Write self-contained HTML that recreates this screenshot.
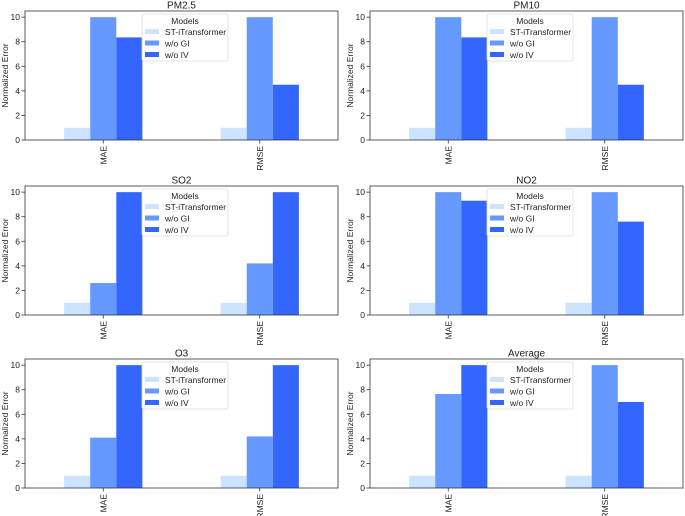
<!DOCTYPE html>
<html><head><meta charset="utf-8"><style>
body{margin:0;background:#fff}
svg{display:block;font-family:"Liberation Sans","DejaVu Sans",sans-serif}
</style></head><body>
<svg id="c" width="685" height="516" viewBox="0 0 685 516"></svg>
<script>
const panelTitles=["PM2.5","PM10","SO2","NO2","O3","Average"];
const categories=["MAE","RMSE"];
const seriesNames=["ST-iTransformer","w/o GI","w/o IV"];
const stValues=[[1,1],[1,1],[1,1],[1,1],[1,1],[1,1]];
const giValues=[[10,10],[10,10],[2.6,4.2],[10,10],[4.1,4.2],[7.65,10]];
const ivValues=[[8.35,4.5],[8.35,4.5],[10,10],[9.3,7.6],[10,10],[10,7.0]];
const yTicks=[0,2,4,6,8,10];
const colors=["#cce4ff","#6699ff","#3366ff"];
const NS="http://www.w3.org/2000/svg";
const svg=document.getElementById('c');
function mk(tag,attrs,parent,text){const e=document.createElementNS(NS,tag);for(const k in attrs)e.setAttribute(k,attrs[k]);if(text!==undefined)e.textContent=text;parent.appendChild(e);return e;}
const lefts=[25,370],tops=[11,186,359],W=313,H=129;
const allVals=[stValues,giValues,ivValues];
panelTitles.forEach((t,i)=>{
  const x0=lefts[i%2],y0=tops[Math.floor(i/2)];
  const g=mk('g',{},svg);
  
  
  const xs=v=>x0+(v+0.5)/2*W;
  const ys=v=>y0+H-v/10.5*H;
  const bw=W/2*0.5/3;
  categories.forEach((c,ci)=>{
    allVals.forEach((arr,si)=>{
      const v=arr[i][ci];
      const r=mk('rect',{x:xs(ci)-1.5*bw+si*bw,y:ys(v),width:bw,height:ys(0)-ys(v),fill:colors[si]},g);
      
      
    });
    mk('line',{x1:xs(ci),x2:xs(ci),y1:y0+H,y2:y0+H+3.5,stroke:'#333','stroke-width':0.8},g);
    const tl=mk('text',{x:0,y:0,'font-size':8.5,fill:'#222','text-anchor':'end',transform:`translate(${xs(ci)+3},${y0+H+6}) rotate(-90)`},g,c);
    
    
  });
  yTicks.forEach(v=>{
    mk('line',{x1:x0-3.5,x2:x0,y1:ys(v),y2:ys(v),stroke:'#333','stroke-width':0.8},g);
    mk('text',{x:x0-5,y:ys(v)+3,'font-size':8.5,fill:'#222','text-anchor':'end'},g,v);
  });
  mk('rect',{x:x0,y:y0,width:W,height:H,fill:'none',stroke:'#333','stroke-width':0.8},g);
  const tt=mk('text',{x:x0+W/2,y:y0-2.5,'font-size':10,fill:'#222','text-anchor':'middle'},g,t);
  
  
  const yl=mk('text',{x:0,y:0,'font-size':8.5,fill:'#222','text-anchor':'middle',transform:`translate(${x0-17},${y0+H/2}) rotate(-90)`},g,'Normalized Error');
  
  
  const lx=x0+117,ly=y0+3;
  const lg=mk('g',{},g);
  
  
  mk('rect',{x:lx,y:ly,width:86,height:47,fill:'#fff','fill-opacity':0.85,stroke:'#ddd','stroke-width':0.8,rx:2},lg);
  mk('text',{x:lx+43,y:ly+10,'font-size':8.5,fill:'#222','text-anchor':'middle'},lg,'Models');
  seriesNames.forEach((s,si)=>{
    mk('rect',{x:lx+3,y:ly+15+si*11.5,width:14,height:5,fill:colors[si]},lg);
    const e=mk('text',{x:lx+23,y:ly+21+si*11.5,'font-size':8.5,fill:'#222'},lg,s);
    
    
  });
});
</script>
</body></html>
